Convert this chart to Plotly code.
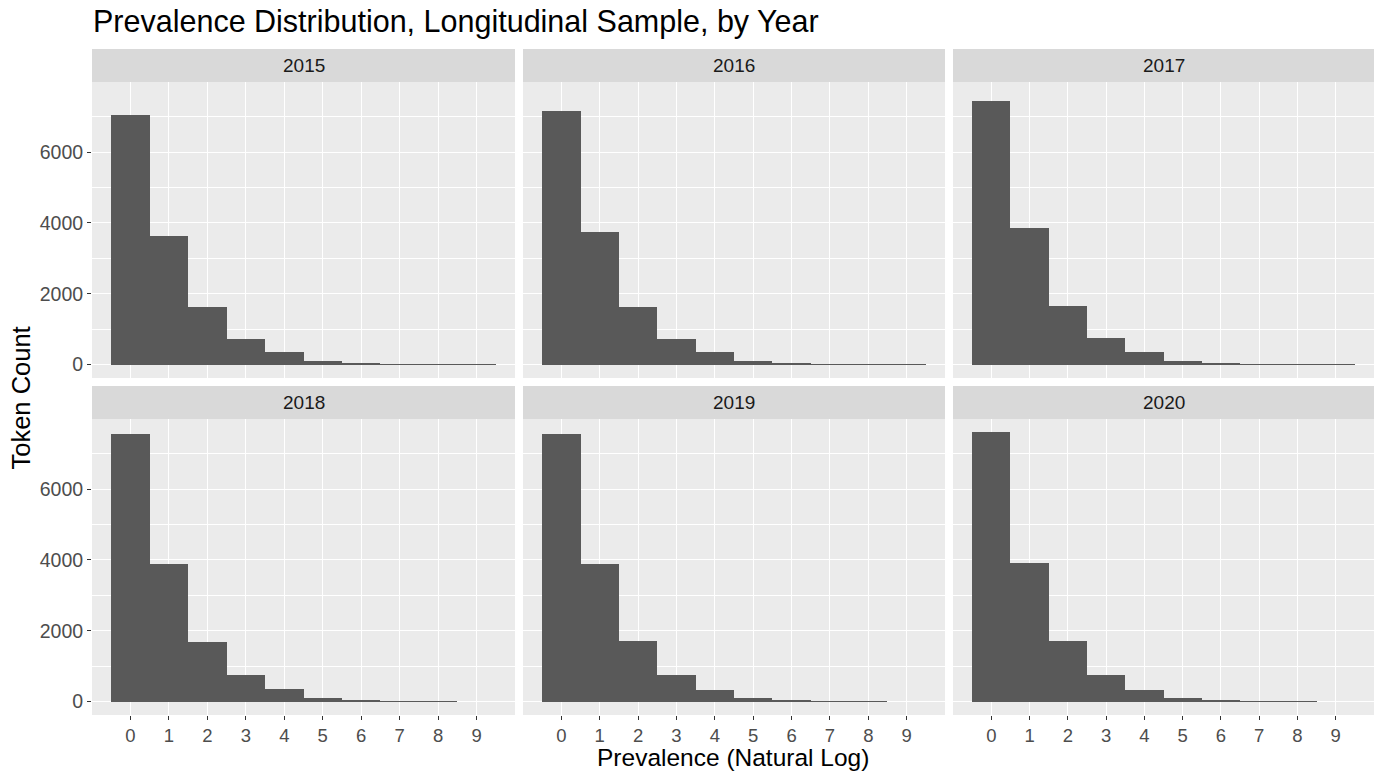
import plotly.graph_objects as go

# ---------------- data ----------------
years = ["2015", "2016", "2017", "2018", "2019", "2020"]
bins = [0, 1, 2, 3, 4, 5, 6, 7, 8, 9]
counts_2015 = [7054, 3646, 1634, 728, 355, 94, 28, 14, 7, 4]
counts_2016 = [7170, 3736, 1632, 736, 342, 104, 28, 14, 7, 4]
counts_2017 = [7434, 3849, 1660, 745, 342, 104, 28, 14, 7, 4]
counts_2018 = [7558, 3897, 1690, 755, 349, 113, 28, 12, 5, 0]
counts_2019 = [7547, 3896, 1698, 745, 340, 113, 28, 12, 5, 0]
counts_2020 = [7604, 3915, 1698, 764, 340, 113, 28, 12, 5, 0]
y_ticks = [0, 2000, 4000, 6000]
y_minor = [1000, 3000, 5000, 7000]

all_counts = [counts_2015, counts_2016, counts_2017,
              counts_2018, counts_2019, counts_2020]

# ---------------- layout geometry ----------------
W, H = 1378, 772
col_px = [(92, 515), (523, 945), (953, 1374)]
row_px = [(82, 378), (419, 715)]   # top, bottom of panel area
strip_h = 33
FONT = "Liberation Sans, Arial, sans-serif"

ymax = max(max(c) for c in all_counts)
yrange = [-0.05 * ymax, 1.05 * ymax]
xrange = [min(bins) - 1, max(bins) + 1]

fig = go.Figure()
shapes = []
annotations = []

for i, (yr, counts) in enumerate(zip(years, all_counts)):
    r, c = divmod(i, 3)
    n = i + 1
    xa = "x" if n == 1 else f"x{n}"
    ya = "y" if n == 1 else f"y{n}"
    fig.add_trace(go.Bar(
        x=bins, y=counts, width=1.0,
        marker=dict(color="#595959", line=dict(width=0)),
        xaxis=xa, yaxis=ya, showlegend=False, hoverinfo="x+y"))

    x0, x1 = col_px[c]
    t, b = row_px[r]
    xdom = [x0 / W, x1 / W]
    ydom = [(H - b) / H, (H - t) / H]
    bottom = (r == 1)
    left = (c == 0)

    xkey = "xaxis" if n == 1 else f"xaxis{n}"
    ykey = "yaxis" if n == 1 else f"yaxis{n}"
    fig.update_layout(**{
        xkey: dict(
            domain=xdom, anchor=ya, range=xrange,
            tickmode="array", tickvals=bins,
            showgrid=True, gridcolor="white", gridwidth=1.2,
            zeroline=False, showline=False,
            ticks="outside" if bottom else "", ticklen=4, tickwidth=1,
            tickcolor="#333333",
            showticklabels=bottom,
            tickfont=dict(family=FONT, size=18.5, color="#4D4D4D"),
            fixedrange=True),
        ykey: dict(
            domain=ydom, anchor=xa, range=yrange,
            tickmode="array", tickvals=y_ticks,
            showgrid=True, gridcolor="white", gridwidth=1.2,
            minor=dict(tickmode="array", tickvals=y_minor, showgrid=True,
                       gridcolor="white", gridwidth=0.6, ticks=""),
            zeroline=False, showline=False,
            ticks="outside" if left else "", ticklen=4, tickwidth=1,
            tickcolor="#333333",
            showticklabels=left,
            tickfont=dict(family=FONT, size=19.5, color="#4D4D4D"),
            fixedrange=True),
    })

    # facet strip
    shapes.append(dict(
        type="rect", xref="paper", yref="paper",
        x0=x0 / W, x1=x1 / W,
        y0=(H - t) / H, y1=(H - t + strip_h) / H,
        fillcolor="#D9D9D9", line=dict(width=0), layer="below"))
    annotations.append(dict(
        text=yr, xref="paper", yref="paper",
        x=(x0 + x1) / 2 / W, y=(H - t + strip_h / 2) / H,
        xanchor="center", yanchor="middle", showarrow=False,
        font=dict(family=FONT, size=19, color="#1A1A1A")))

# title
annotations.append(dict(
    text="Prevalence Distribution, Longitudinal Sample, by Year",
    xref="paper", yref="paper", x=91 / W, y=(H - 22) / H,
    xanchor="left", yanchor="middle", showarrow=False,
    font=dict(family=FONT, size=30.5, color="black")))
# x-axis title
annotations.append(dict(
    text="Prevalence (Natural Log)",
    xref="paper", yref="paper", x=(col_px[0][0] + col_px[2][1]) / 2 / W,
    y=0, xanchor="center", yanchor="bottom", showarrow=False,
    borderpad=0,
    font=dict(family=FONT, size=24.5, color="black")))
# y-axis title
annotations.append(dict(
    text="Token Count",
    xref="paper", yref="paper", x=20 / W,
    y=(H - (row_px[0][1] + row_px[1][0]) / 2) / H,
    xanchor="center", yanchor="middle", textangle=-90, showarrow=False,
    font=dict(family=FONT, size=25.5, color="black")))

fig.update_layout(
    width=W, height=H, autosize=False,
    margin=dict(l=0, r=0, t=0, b=0),
    paper_bgcolor="white", plot_bgcolor="#EBEBEB",
    bargap=0, shapes=shapes, annotations=annotations,
    font=dict(family=FONT))

fig.write_html("out.html")
